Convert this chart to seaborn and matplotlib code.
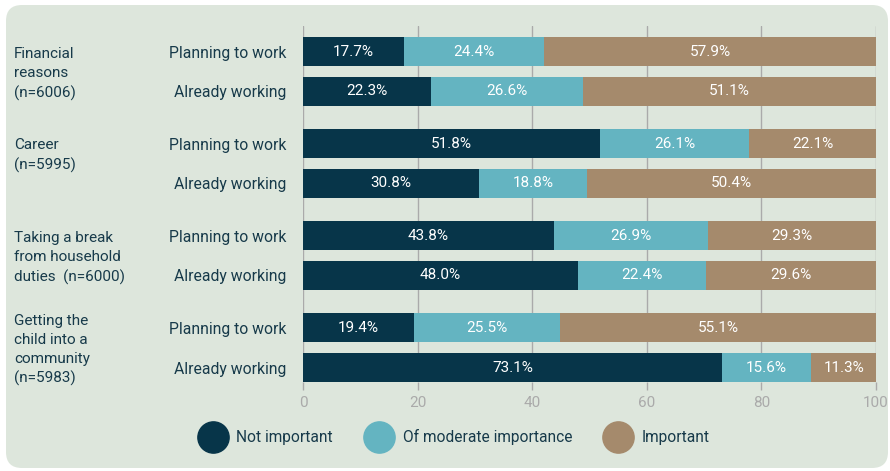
import matplotlib
matplotlib.use("Agg")
import matplotlib.pyplot as plt
from matplotlib.patches import FancyBboxPatch
from matplotlib.lines import Line2D
from matplotlib.transforms import IdentityTransform, blended_transform_factory
import seaborn as sns
import pandas as pd

# ---- data ----
groups = ["Financial\nreasons\n(n=6006)", "Career\n(n=5995)",
          "Taking a break\nfrom household\nduties  (n=6000)",
          "Getting the\nchild into a\ncommunity\n(n=5983)"]
statuses = ["Planning to work", "Already working"]
series = ["Not important", "Of moderate importance", "Important"]
not_important = [17.7, 22.3, 51.8, 30.8, 43.8, 48.0, 19.4, 73.1]
moderate = [24.4, 26.6, 26.1, 18.8, 26.9, 22.4, 25.5, 15.6]
important = [57.9, 51.1, 22.1, 50.4, 29.3, 29.6, 55.1, 11.3]
x_ticks = [0, 20, 40, 60, 80, 100]

colors = ["#073549", "#64B4C1", "#A58A6C"]
text_col = "#173a4a"
bg = "#DDE6DC"

sns.set_theme(style="white")
plt.rcParams["font.family"] = ["Roboto", "DejaVu Sans"]

# layout positions
group_gap = 2.31
ypos = []
for g in range(len(groups)):
    for j in range(len(statuses)):
        ypos.append(g * group_gap + j)

df = pd.DataFrame({
    "y": ypos,
    "status": statuses * len(groups),
    "s1": not_important,
    "s2": moderate,
    "s3": important,
})
df["c1"] = df["s1"]
df["c2"] = df["s1"] + df["s2"]
df["c3"] = df["c2"] + df["s3"]

fig = plt.figure(figsize=(8.9, 4.71), dpi=100)
fig.patch.set_facecolor("white")
panel = FancyBboxPatch((6, 3), 882, 463, boxstyle="round,pad=0,rounding_size=16",
                       transform=IdentityTransform(), facecolor=bg, edgecolor="none",
                       zorder=-10)
fig.add_artist(panel)

ax = fig.add_axes([303 / 890, 1 - 382 / 471, (876 - 303) / 890, (382 - 26) / 471])
ax.set_facecolor("none")

for col, c in zip(["c3", "c2", "c1"], colors[::-1]):
    sns.barplot(data=df, x=col, y="y", orient="y", native_scale=True, width=0.725,
                color=c, saturation=1, linewidth=0, ax=ax, zorder=3)

# value labels
for _, r in df.iterrows():
    starts = [0, r["c1"], r["c2"]]
    vals = [r["s1"], r["s2"], r["s3"]]
    for s, v in zip(starts, vals):
        ax.text(s + v / 2, r["y"], f"{v:.1f}%", ha="center", va="center",
                color="white", fontsize=11, zorder=5)

ax.set_xlim(0, 100)
ax.set_ylim(3 * group_gap + 1 + 0.3625, -0.64)
ax.set_xticks(x_ticks)
ax.set_xticklabels([str(t) for t in x_ticks], color="#aaaaaa", fontsize=11)
ax.set_yticks(ypos)
ax.set_yticklabels(df["status"], color=text_col, fontsize=11.3)
ax.tick_params(axis="y", length=0, pad=12)
ax.tick_params(axis="x", length=6, color="#aaaaaa", width=1, pad=4, bottom=True)
ax.grid(axis="x", color="#aaaaaa", linewidth=1, zorder=0)
ax.grid(axis="y", visible=False)
ax.set_axisbelow(True)
for sp in ax.spines.values():
    sp.set_visible(False)
ax.set_xlabel("")
ax.set_ylabel("")

# group labels
label_offsets = [0.56, 0.3, 0.57, 0.56]
trans = blended_transform_factory(fig.transFigure, ax.transData)
for g, (lab, off) in enumerate(zip(groups, label_offsets)):
    ax.text(14 / 890, g * group_gap + off, lab, transform=trans,
            ha="left", va="center", fontsize=11, color=text_col, linespacing=1.46)

handles = [Line2D([], [], marker="o", ls="", markersize=22.5, color=c) for c in colors]
fig.legend(handles, series, loc="center", bbox_to_anchor=(455 / 890, 1 - 437 / 471),
           ncol=3, frameon=False, fontsize=11.2, labelcolor=text_col,
           handlelength=1.6, handletextpad=0.72, columnspacing=2.15)

fig.savefig("out.png", dpi=100, facecolor="white")
